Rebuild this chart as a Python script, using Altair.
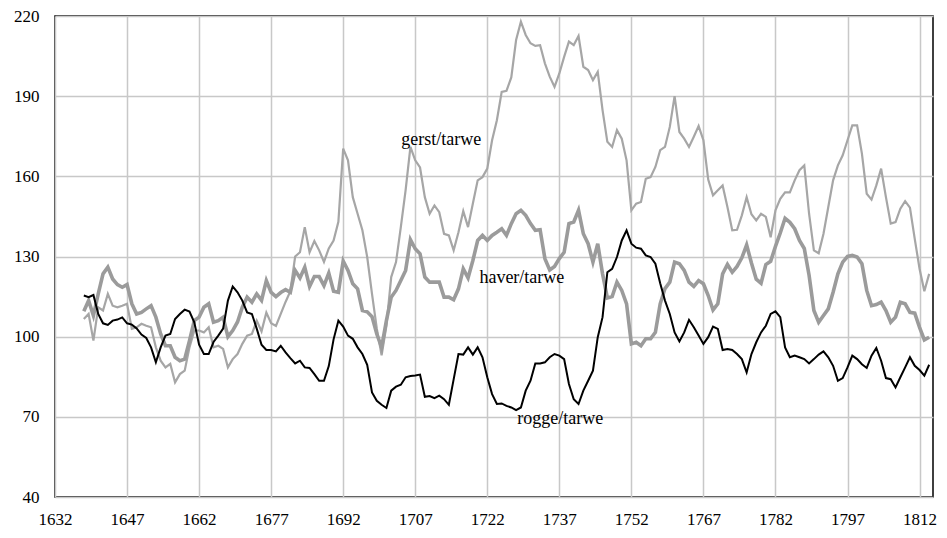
import altair as alt
import pandas as pd

start_year = 1638

gerst = [
    106.6, 108.5,
    98.5, 111, 109.8, 116, 111.6, 111, 111.6, 112.3, 102.9, 103.5,
    104.8, 104.1, 103.5, 96, 91, 88.5, 89.8, 82.9, 86, 87.3,
    96, 102.3, 102.3, 101.6, 103.5, 96, 96.6, 95.4, 88.5, 91.6,
    93.5, 97.3, 100.4, 101, 106, 102, 109, 105, 104, 108.5,
    113, 117, 130, 131.6, 141, 131.6, 135.8, 132.3, 128, 133,
    136, 143, 170.4, 166, 152.2, 146, 139.8, 129.8, 116, 103,
    93, 104, 122.3, 127.9, 141, 154.8, 171, 166, 163.3, 152.2,
    146, 149.1, 146.6, 138.5, 137.9, 132.3, 139.1, 147, 141, 149.8,
    158.5, 159.7, 162.9, 173.5, 181, 191.6, 192, 197, 211, 217.9,
    212.9, 209.8, 208.8, 209.1, 202.3, 197.3, 193.5, 198.5, 204.7, 210.4,
    209.1, 212.5, 201, 199.8, 196, 199.1, 184.8, 172.9, 171, 177.3,
    174.1, 166, 147.3, 149.8, 150.4, 159.1, 159.7, 163.5, 169.8, 171,
    178.5, 190, 176.6, 174.1, 171, 174.8, 178.8, 173.5, 158.8, 152.9,
    154.8, 156.6, 148.5, 139.8, 140, 145.4, 152.2, 145.8, 143.5, 146,
    144.8, 137.2, 147.3, 151.6, 154, 154, 158.5, 162.3, 164.1, 146,
    132.3, 131.2, 138.5, 148.5, 158.5, 164.1, 167.9, 173.5, 179.1, 179.1,
    168.5, 153.5, 151.3, 156.6, 162.9, 152.2, 142.3, 142.9, 147.9, 150.7,
    148.3, 136.6, 125.4, 117, 123.5,
]

haver = [
    109.5, 113.5,
    107.9, 116, 123.5, 126, 121.6, 119.5, 118.5, 119.5, 112.3, 108.5,
    109.1, 110.4, 111.6, 107.3, 101, 96.6, 96.6, 92.3, 91, 91.6,
    98.5, 106, 107.3, 111, 112.3, 105.4, 106, 107.3, 100, 102.3,
    105.5, 111, 114.8, 112.9, 116, 113.6, 121, 116.6, 115, 116.5,
    117.6, 116.6, 124.8, 122, 126, 118.8, 122.5, 122.5, 119.1, 123.8,
    117, 116.6, 128.3, 124.8, 119.8, 117.9, 109.8, 109.3, 107.5, 101,
    96, 106, 114.8, 117.3, 121, 124.8, 136.3, 132.9, 131, 122.3,
    120.4, 120.4, 120.4, 114.8, 114.8, 113.8, 117.9, 125.4, 122, 128.5,
    136, 137.9, 136, 137.9, 139.1, 140.4, 137.9, 142.3, 146, 147.3,
    145.4, 142.3, 139.8, 140, 129.2, 125, 126.3, 129.2, 131.6, 142.3,
    142.9, 147.3, 138.5, 134.8, 127.9, 134.8, 123.5, 114.5, 115, 120.4,
    117.3, 112.3, 97.3, 97.9, 96.6, 99.2, 99.2, 101.6, 112.3, 118,
    120.4, 127.9, 127.3, 124.8, 120.4, 118.8, 121, 119.8, 115.4, 110,
    112.3, 123.5, 127, 124.1, 126.3, 129.5, 134.3, 127.6, 121.5, 120,
    127, 128.2, 133.8, 138.8, 144.3, 142.8, 140.4, 136, 133, 123,
    109.8, 105.4, 107.9, 110.4, 116.6, 123.5, 127.9, 130, 130.4, 129.8,
    127.3, 117.3, 111.6, 112, 112.9, 109.8, 105.4, 107.3, 112.9, 112.3,
    109.1, 108.8, 103.5, 98.8, 99.8,
]

rogge = [
    115.4, 114.8,
    115.6, 108.5, 105, 104.4, 106, 106.4, 107.2, 105, 104.5, 103.1,
    100.8, 99.5, 96, 90.4, 96, 100.4, 101, 106.6, 108.5, 110.1,
    109.4, 105.4, 97, 93.5, 93.5, 98, 100.4, 103, 113.5, 118.8,
    116.6, 113.5, 109.1, 108.5, 103, 97, 95, 95, 94.5, 96.6,
    94.1, 92, 90, 91, 88.5, 88.3, 86, 83.5, 83.5, 89,
    99, 106, 103.8, 100.4, 99.2, 96, 93.5, 89.5, 79.1, 76,
    74.5, 73.3, 79.8, 81.3, 82, 84.8, 85.3, 85.5, 85.8, 77.5,
    77.8, 77, 77.9, 76.6, 74.5, 84, 93.5, 93.3, 96, 93.3,
    96, 92.3, 84.8, 78.5, 74.8, 75, 74.1, 73.5, 72.5, 73.5,
    79.8, 83.5, 90, 90, 90.4, 92.3, 93.5, 92.9, 91.6, 82.3,
    76.6, 74.8, 79.8, 83.5, 87.3, 99.8, 107.3, 124.1, 125.4, 129.8,
    136, 139.8, 134.8, 133.3, 132.9, 130.4, 129.8, 127.3, 120, 113.5,
    108.5, 101.6, 98.2, 101.6, 106.3, 103.5, 100.4, 97.3, 99.8, 103.8,
    102.9, 95, 95.4, 95, 93.5, 91.6, 86.6, 93.5, 97.9, 101.6,
    104.1, 108.5, 109.5, 107.3, 96, 92.3, 92.9, 92.3, 91.6, 90,
    91.6, 93.3, 94.5, 92.3, 89.1, 83.5, 84.5, 88.5, 92.9, 91.6,
    89.7, 88.3, 92.9, 95.8, 91, 84.5, 84.1, 81, 84.8, 88.5,
    92.3, 89.1, 87.5, 85.4, 89.5,
]

x_ticks = [1632, 1647, 1662, 1677, 1692, 1707, 1722, 1737, 1752, 1767, 1782, 1797, 1812]
y_ticks = [40, 70, 100, 130, 160, 190, 220]

label_text = ["gerst/tarwe", "haver/tarwe", "rogge/tarwe"]
label_year = [1712.4, 1729.2, 1737.2]
label_value = [173.5, 122.1, 69.3]

rows = []
for name, vals in [("gerst/tarwe", gerst), ("haver/tarwe", haver), ("rogge/tarwe", rogge)]:
    for i, v in enumerate(vals):
        rows.append({"serie": name, "jaar": start_year + i, "waarde": v})
df = pd.DataFrame(rows)
labels = pd.DataFrame({"tekst": label_text, "jaar": label_year, "waarde": label_value})

FONT = "Liberation Serif"

xs = alt.X("jaar:Q",
           scale=alt.Scale(domain=[1632, 1814.8], nice=False, zero=False),
           axis=alt.Axis(values=x_ticks, format="d", title=None, ticks=False,
                         domain=False, labelPadding=14, labelFontSize=17,
                         labelFont=FONT, labelColor="#000", grid=True,
                         gridColor="#c8c8c8", gridWidth=1.5, labelFlush=False))
ys = alt.Y("waarde:Q",
           scale=alt.Scale(domain=[40, 220], nice=False, zero=False),
           axis=alt.Axis(values=y_ticks, title=None, ticks=False, domain=False,
                         labelPadding=16, labelFontSize=17, labelFont=FONT,
                         labelColor="#000", grid=True, gridColor="#c8c8c8",
                         gridWidth=1.5))

base = alt.Chart(df)
l_gerst = base.transform_filter(alt.datum.serie == "gerst/tarwe").mark_line(
    color="#a6a6a6", strokeWidth=2.2).encode(x=xs, y=ys)
l_haver = base.transform_filter(alt.datum.serie == "haver/tarwe").mark_line(
    color="#9b9b9b", strokeWidth=3.6).encode(x="jaar:Q", y="waarde:Q")
l_rogge = base.transform_filter(alt.datum.serie == "rogge/tarwe").mark_line(
    color="#000000", strokeWidth=2).encode(x="jaar:Q", y="waarde:Q")
txt = alt.Chart(labels).mark_text(font=FONT, fontSize=18, color="#000",
                                  align="center", baseline="middle").encode(
    x="jaar:Q", y="waarde:Q", text="tekst:N")

chart = alt.layer(l_gerst, l_haver, l_rogge, txt).properties(
    width=878, height=481,
    autosize=alt.AutoSizeParams(type="none"),
    padding={"left": 47, "top": 8, "right": 6, "bottom": 33},
).configure_view(stroke="#000", strokeWidth=1.5)

chart.save("out.html", embed_options={"renderer": "svg", "actions": False})
